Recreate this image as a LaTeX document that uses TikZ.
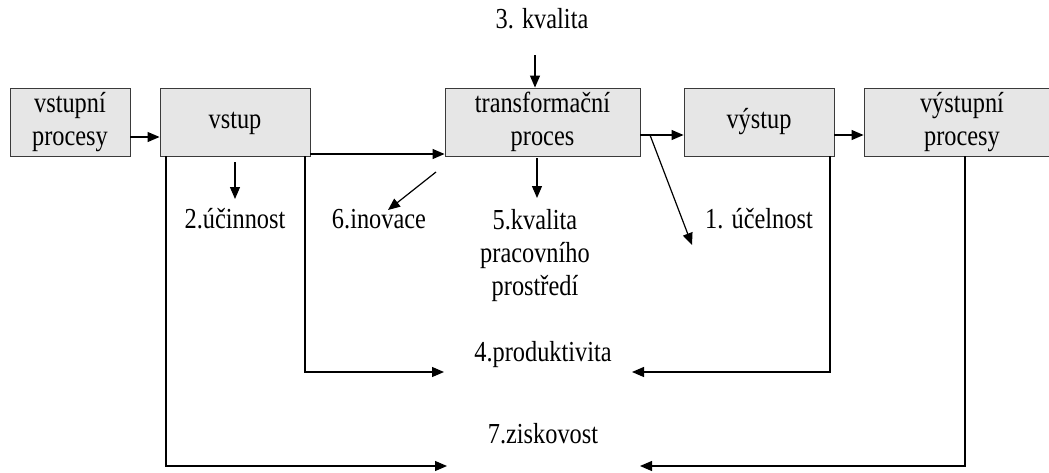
\documentclass[tikz,border=0pt]{standalone}
\usepackage{fontspec}
\setmainfont{Liberation Serif}
\usetikzlibrary{arrows.meta,calc}
% text set slightly condensed
\newcommand{\tx}[1]{\scalebox{0.84}[1]{\begin{tabular}{@{}c@{}}#1\end{tabular}}}
% box text, set a little lower than the geometric centre
\newcommand{\bx}[1]{\raisebox{-3pt}{\tx{#1}}}
\definecolor{boxfill}{HTML}{E6E6E6}
\definecolor{boxline}{HTML}{3A3A3A}
\begin{document}
\begin{tikzpicture}[x=1pt, y=-1pt,
  font=\fontsize{29}{33}\selectfont,
  procbox/.style={draw=boxline, fill=boxfill, line width=0.9pt, inner sep=0pt, minimum height=68pt},
  lbl/.style={inner sep=0pt},
  conn/.style={line width=1.2pt},
  arr/.style={conn, -{Triangle[length=12pt,width=10pt]}}]
\clip (0,0) rectangle (1049,472);
\useasboundingbox (0,0) rectangle (1049,472);

% process chain
\node[procbox, minimum width=120pt] (vp)  at (70,122)    {\bx{vstupní\\procesy}};
\node[procbox, minimum width=150pt] (vs)  at (235,122)   {\bx{vstup}};
\node[procbox, minimum width=195pt] (tp)  at (542.5,122) {\bx{transformační\\proces}};
\node[procbox, minimum width=150pt] (vy)  at (759,122)   {\bx{výstup}};
\node[procbox, minimum width=196pt] (vyp) at (962,122)   {\bx{výstupní\\procesy}};

% indicators
\node[lbl] (k3) at (542,22)  {\tx{3. kvalita}};
\node[lbl] (u2) at (235,222) {\tx{2.účinnost}};
\node[lbl] (u6) at (379,222) {\tx{6.inovace}};
\node[lbl] (u5) at (535,256) {\tx{5.kvalita\\pracovního\\prostředí}};
\node[lbl] (u1) at (759,222) {\tx{1. účelnost}};
\node[lbl] (u4) at (543,355) {\tx{4.produktivita}};
\node[lbl] (u7) at (543,437) {\tx{7.ziskovost}};

% free ends of connectors
\coordinate (k3s) at (535,55);
\coordinate (d1) at (650,135);
\coordinate (d1e) at (692,245);
\coordinate (v2s) at (235,162);
\coordinate (v2e) at (235,199);
\coordinate (v5s) at (537,158);
\coordinate (v5e) at (537,198);
\coordinate (v6s) at (436,172);
\coordinate (v6e) at (388,210);
\coordinate (p4l) at (444,372);
\coordinate (p4r) at (632,372);
\coordinate (p7l) at (447,466);
\coordinate (p7r) at (640,466);

% chain arrows
\draw[arr] (vp.east |- 0,137) -- (vs.west |- 0,137);
\draw[arr] (vs.east |- 0,154) -- (tp.west |- 0,154);
\draw[arr] (tp.east |- 0,135) -- (vy.west |- 0,135);
\draw[arr] (vy.east |- 0,135) -- (vyp.west |- 0,135);
\draw[arr] (k3s) -- (k3s |- tp.north);

% arrows to indicators
\draw[arr] (d1) -- (d1e);
\draw[arr] (v2s) -- (v2e);
\draw[arr] (v5s) -- (v5e);
\draw[arr] (v6s) -- (v6e);

% feedback lines
\draw[arr] (vs.south -| 166,0) -- (166,466) -- (p7l);
\draw[arr] (vs.south -| 305,0) -- (305,372) -- (p4l);
\draw[arr] (vy.south -| 830,0) -- (830,372) -- (p4r);
\draw[arr] (vyp.south -| 965,0) -- (965,466) -- (p7r);
\end{tikzpicture}
\end{document}
